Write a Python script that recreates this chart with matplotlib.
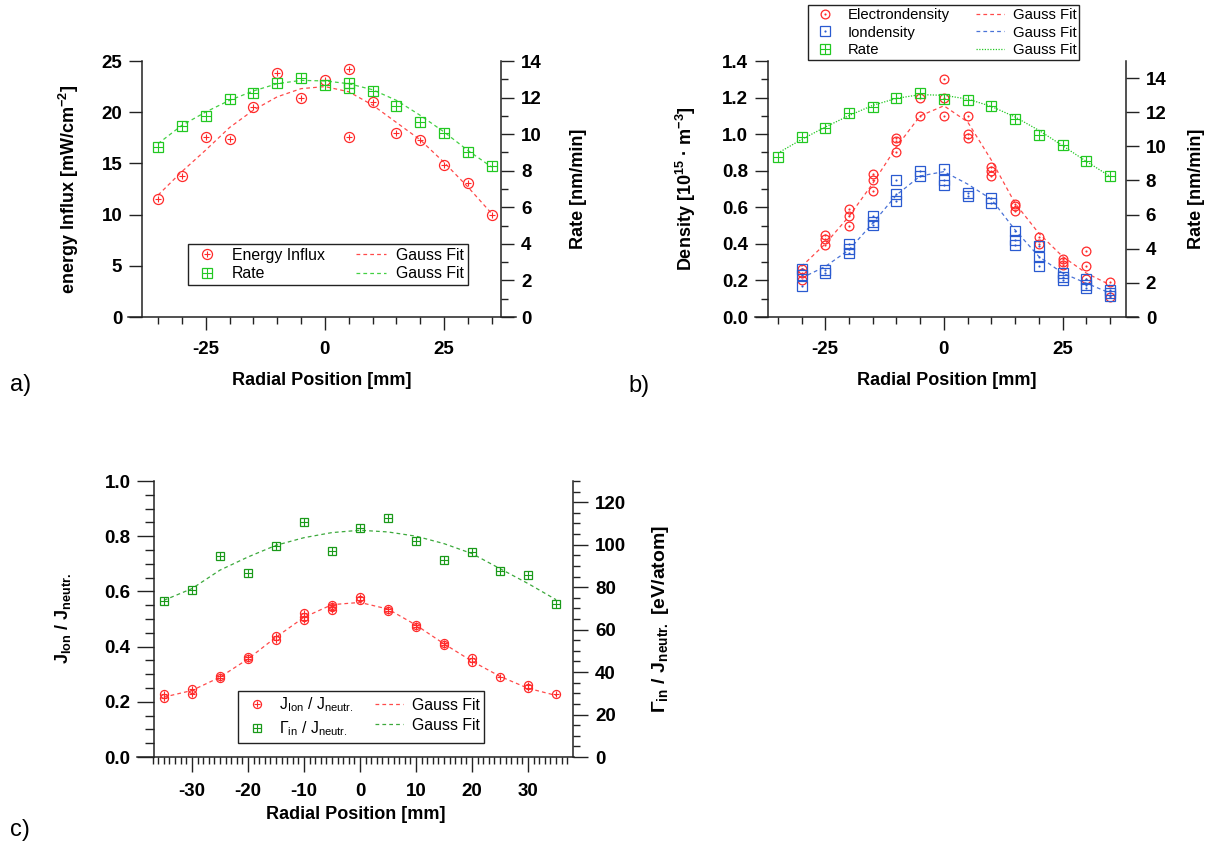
"""
Radial profiles: energy influx, densities and flux ratios with Gauss fits
"""

import matplotlib
matplotlib.use('Agg')
from matplotlib import pyplot
from matplotlib.ticker import FixedLocator, MultipleLocator, FormatStrFormatter

pyplot.rcParams['font.family'] = ['Liberation Sans', 'DejaVu Sans']
pyplot.rcParams['mathtext.default'] = 'regular'
pyplot.rcParams['axes.unicode_minus'] = False

FIG_W, FIG_H = 1215, 841
RED = '#ff2a2a'
GREEN = '#22c822'
DARK_GREEN = '#1a9a1a'
BLUE = '#2a5ad0'
AXIS_COLOR = '#222222'
TICK_SIZE = 13.5
LABEL_SIZE = 13

POSITIONS = [-35, -30, -25, -20, -15, -10, -5, 0, 5, 10, 15, 20, 25, 30, 35]

# ---- panel a ----
A_INFLUX_X = [-35, -30, -25, -20, -15, -10, -5, 0, 5, 5, 10, 15, 20, 25, 30, 35]
A_INFLUX_Y = [11.5, 13.8, 17.6, 17.4, 20.5, 23.8, 21.4, 23.1, 24.2, 17.6,
              21.0, 18.0, 17.3, 14.8, 13.1, 10.0]
A_RATE_X = [-35, -30, -25, -20, -15, -10, -5, 0, 5, 5, 10, 15, 20, 25, 30, 35]
A_RATE_Y = [9.31, 10.46, 10.99, 11.90, 12.27, 12.80, 13.09, 12.71, 12.80, 12.54,
            12.34, 11.52, 10.66, 10.04, 9.04, 8.24]
A_INFLUX_FIT = [11.9, 14.2, 16.3, 18.5, 20.2, 21.5, 22.3, 22.5, 22.0, 20.7,
                19.0, 17.3, 15.1, 12.7, 10.1]
A_RATE_FIT = [9.48, 10.48, 11.21, 11.85, 12.36, 12.76, 12.94, 12.91, 12.76,
              12.43, 11.85, 11.03, 10.12, 9.11, 8.20]

# ---- panel b ----
B_ELECTRON_X = [-30, -30, -30, -25, -25, -25, -20, -20, -20, -15, -15, -15,
                -10, -10, -10, -5, -5, 0, 0, 0, 5, 5, 5, 10, 10, 10,
                15, 15, 15, 20, 20, 25, 25, 25, 30, 30, 30, 35, 35]
B_ELECTRON_Y = [0.26, 0.24, 0.20, 0.45, 0.425, 0.395, 0.59, 0.55, 0.50,
                0.78, 0.75, 0.69, 0.98, 0.965, 0.90, 1.20, 1.10,
                1.30, 1.20, 1.10, 1.10, 1.00, 0.98, 0.82, 0.80, 0.77,
                0.62, 0.605, 0.58, 0.44, 0.40, 0.315, 0.30, 0.285,
                0.36, 0.28, 0.21, 0.19, 0.11]
B_ION_X = [-30, -30, -30, -25, -25, -20, -20, -20, -15, -15, -15,
           -10, -10, -10, -5, -5, 0, 0, 0, 5, 5, 10, 10,
           15, 15, 15, 20, 20, 20, 25, 25, 25, 30, 30, 30, 35, 35, 35]
B_ION_Y = [0.26, 0.23, 0.17, 0.255, 0.24, 0.40, 0.37, 0.35, 0.55, 0.52, 0.505,
           0.75, 0.675, 0.635, 0.80, 0.77, 0.81, 0.75, 0.72, 0.68, 0.66,
           0.65, 0.625, 0.47, 0.42, 0.395, 0.39, 0.33, 0.28,
           0.24, 0.22, 0.205, 0.21, 0.175, 0.16, 0.15, 0.13, 0.115]
B_RATE_Y = [9.38, 10.53, 11.07, 11.95, 12.30, 12.85, 13.13, 12.79, 12.70,
            12.34, 11.60, 10.68, 10.06, 9.12, 8.28]
B_FIT_X = [-30, -25, -20, -15, -10, -5, 0, 5, 10, 15, 20, 25, 30, 35]
B_ELECTRON_FIT = [0.276, 0.40, 0.55, 0.73, 0.93, 1.10, 1.155, 1.067, 0.858,
                  0.622, 0.458, 0.331, 0.24, 0.176]
B_ION_FIT = [0.213, 0.276, 0.367, 0.513, 0.667, 0.771, 0.795, 0.727, 0.644,
             0.476, 0.331, 0.24, 0.185, 0.131]
B_RATE_FIT = [9.6, 10.4, 11.13, 11.8, 12.4, 12.81, 13.03, 12.99, 12.77, 12.34,
              11.72, 10.94, 10.04, 9.12, 8.24]

# ---- panel c ----
C_ION_X = [-35, -35, -30, -30, -25, -25, -20, -20, -15, -15, -10, -10, -10,
           -5, -5, -5, 0, 0, 5, 5, 10, 10, 15, 15, 20, 20, 25, 30, 30, 35]
C_ION_Y = [0.229, 0.214, 0.247, 0.229, 0.295, 0.287, 0.364, 0.355, 0.437, 0.425,
           0.520, 0.508, 0.496, 0.551, 0.542, 0.533, 0.578, 0.570, 0.536, 0.528,
           0.478, 0.470, 0.412, 0.406, 0.359, 0.343, 0.289, 0.261, 0.249, 0.229]
C_GAMMA_Y = [73.3, 78.5, 94.7, 86.9, 99.4, 110.6, 96.9, 107.7, 112.6, 101.8,
             92.7, 96.7, 87.6, 85.8, 72.1]
C_ION_FIT = [0.217, 0.241, 0.289, 0.355, 0.434, 0.506, 0.552, 0.560, 0.536,
             0.478, 0.410, 0.347, 0.292, 0.249, 0.223]
C_GAMMA_FIT = [73.8, 79.3, 88.0, 94.2, 99.7, 103.3, 105.7, 106.8, 106.0, 104.0,
               100.5, 95.8, 88.7, 81.7, 74.1]


def px_rect(x0, y0, x1, y1):
    return [x0 / FIG_W, 1 - y1 / FIG_H, (x1 - x0) / FIG_W, (y1 - y0) / FIG_H]


def scatter(ax, x, y, color, shape, inner, size, inner_size):
    outer = ax.plot(x, y, ls='none', marker=shape, ms=size, mfc='none',
                    mec=color, mew=0.9)[0]
    core = ax.plot(x, y, ls='none', marker=inner, ms=inner_size, color=color,
                   mew=0.8)[0]
    return (outer, core)


def style_axes(ax, ax2, left_x, right_x):
    for name in ('top', 'right'):
        ax.spines[name].set_visible(False)
    for name in ('top', 'left', 'bottom'):
        ax2.spines[name].set_visible(False)
    ax.spines['left'].set_position(('data', left_x))
    ax2.spines['right'].set_position(('data', right_x))
    for a in (ax, ax2):
        a.patch.set_visible(False)
        for sp in a.spines.values():
            sp.set_color(AXIS_COLOR)
            sp.set_linewidth(1.1)
        a.tick_params(which='both', direction='out', color=AXIS_COLOR,
                      width=1.0, labelsize=TICK_SIZE, pad=5)
        a.tick_params(which='major', length=9.5)
        a.tick_params(which='minor', length=5)
    ax.tick_params(axis='x', pad=8)


def add_legend(fig, handles, labels, x, y, **kw):
    return fig.legend(handles, labels, ncol=2, loc='upper left',
                      bbox_to_anchor=(x / FIG_W, 1 - y / FIG_H), borderaxespad=0,
                      frameon=True, fancybox=False, framealpha=1,
                      edgecolor='#222222', **kw)


def bold_ticks(*axes):
    for a in axes:
        for lab in a.get_xticklabels() + a.get_yticklabels():
            lab.set_fontweight('bold')


def main():
    fig = pyplot.figure(figsize=(FIG_W / 100, FIG_H / 100), dpi=100)
    dashed = (0, (3, 2.5))

    # ---------------- panel a ----------------
    ax = fig.add_axes(px_rect(128, 61, 516, 317))
    ax2 = ax.twinx()
    ax.set_xlim(-41.3, 40.1)
    ax.set_ylim(0, 25)
    ax2.set_ylim(0, 14)

    fit_a1, = ax.plot(POSITIONS, A_INFLUX_FIT, color=RED, lw=0.9, ls=dashed, alpha=0.85)
    pts_a1 = scatter(ax, A_INFLUX_X, A_INFLUX_Y, RED, 'o', '+', 7.2, 5)
    fit_a2, = ax2.plot(POSITIONS, A_RATE_FIT, color=GREEN, lw=0.9, ls=dashed, alpha=0.85)
    pts_a2 = scatter(ax2, A_RATE_X, A_RATE_Y, GREEN, 's', '+', 7.2, 7.2)

    ax.xaxis.set_major_locator(FixedLocator([-25, 0, 25]))
    ax.xaxis.set_minor_locator(FixedLocator(POSITIONS))
    ax.yaxis.set_major_locator(MultipleLocator(5))
    ax2.yaxis.set_major_locator(MultipleLocator(2))
    ax2.yaxis.set_minor_locator(MultipleLocator(1))
    style_axes(ax, ax2, -38.3, 36.96)

    ax.set_xlabel('Radial Position [mm]', fontsize=LABEL_SIZE, fontweight='bold', labelpad=10)
    ax.set_ylabel('energy Influx [mW/cm$^{-2}$]', fontsize=LABEL_SIZE, fontweight='bold')
    ax.yaxis.set_label_coords(-0.12, 0.5)
    ax2.set_ylabel('Rate [nm/min]', fontsize=LABEL_SIZE, fontweight='bold')
    ax2.yaxis.set_label_coords(1.14, 0.5)

    add_legend(fig, [pts_a1, pts_a2, fit_a1, fit_a2],
               ['Energy Influx', 'Rate', 'Gauss Fit', 'Gauss Fit'], 188, 244,
               fontsize=11.4, handlelength=1.9, handletextpad=0.6,
               columnspacing=2.0, labelspacing=0.2, borderpad=0.25)

    # ---------------- panel b ----------------
    bx = fig.add_axes(px_rect(755, 61, 1138, 317))
    bx2 = bx.twinx()
    bx.set_xlim(-39.8, 40.9)
    bx.set_ylim(0, 1.4)
    bx2.set_ylim(0, 15)

    fit_b1, = bx.plot(B_FIT_X, B_ELECTRON_FIT, color=RED, lw=0.9, ls=dashed, alpha=0.85)
    fit_b2, = bx.plot(B_FIT_X, B_ION_FIT, color=BLUE, lw=0.9, ls=dashed, alpha=0.85)
    pts_b1 = scatter(bx, B_ELECTRON_X, B_ELECTRON_Y, RED, 'o', '.', 6.3, 1.5)
    pts_b2 = scatter(bx, B_ION_X, B_ION_Y, BLUE, 's', '.', 6.5, 1.5)
    fit_b3, = bx2.plot(POSITIONS, B_RATE_FIT, color=GREEN, lw=0.9, ls=(0, (1, 1.2)))
    pts_b3 = scatter(bx2, POSITIONS, B_RATE_Y, GREEN, 's', '+', 6.5, 6.5)

    bx.xaxis.set_major_locator(FixedLocator([-25, 0, 25]))
    bx.xaxis.set_minor_locator(FixedLocator(POSITIONS))
    bx.yaxis.set_major_locator(MultipleLocator(0.2))
    bx.yaxis.set_minor_locator(MultipleLocator(0.1))
    bx.yaxis.set_major_formatter(FormatStrFormatter('%.1f'))
    bx2.yaxis.set_major_locator(MultipleLocator(2))
    style_axes(bx, bx2, -36.98, 38.3)

    bx.set_xlabel('Radial Position [mm]', fontsize=LABEL_SIZE, fontweight='bold', labelpad=10)
    bx.set_ylabel('Density [10$^{15}$ · m$^{-3}$]', fontsize=LABEL_SIZE, fontweight='bold')
    bx.yaxis.set_label_coords(-0.15, 0.5)
    bx2.set_ylabel('Rate [nm/min]', fontsize=LABEL_SIZE, fontweight='bold')
    bx2.yaxis.set_label_coords(1.13, 0.5)

    add_legend(fig, [pts_b1, pts_b2, pts_b3, fit_b1, fit_b2, fit_b3],
               ['Electrondensity', 'Iondensity', 'Rate',
                'Gauss Fit', 'Gauss Fit', 'Gauss Fit'], 808, 5,
               fontsize=10.7, handlelength=1.9, handletextpad=0.6,
               columnspacing=1.7, labelspacing=0.25, borderpad=0.2)

    # ---------------- panel c ----------------
    cx = fig.add_axes(px_rect(137, 481, 574, 757))
    cx2 = cx.twinx()
    cx.set_xlim(-39.8, 38.2)
    cx.set_ylim(0, 1.0)
    cx2.set_ylim(0, 130)

    fit_c1, = cx.plot(POSITIONS, C_ION_FIT, color=RED, lw=0.9, ls=dashed, alpha=0.85)
    pts_c1 = scatter(cx, C_ION_X, C_ION_Y, RED, 'o', '+', 5.8, 4)
    fit_c2, = cx2.plot(POSITIONS, C_GAMMA_FIT, color=DARK_GREEN, lw=0.9, ls=dashed, alpha=0.85)
    pts_c2 = scatter(cx2, POSITIONS, C_GAMMA_Y, DARK_GREEN, 's', '+', 6, 6)

    cx.xaxis.set_major_locator(FixedLocator([-30, -20, -10, 0, 10, 20, 30]))
    cx.xaxis.set_minor_locator(FixedLocator(list(range(-37, 38))))
    cx.yaxis.set_major_locator(MultipleLocator(0.2))
    cx.yaxis.set_minor_locator(MultipleLocator(0.05))
    cx.yaxis.set_major_formatter(FormatStrFormatter('%.1f'))
    cx2.yaxis.set_major_locator(MultipleLocator(20))
    cx2.yaxis.set_minor_locator(MultipleLocator(5))
    style_axes(cx, cx2, -36.73, 37.98)
    cx.tick_params(axis='y', which='major', length=12)
    cx.tick_params(axis='y', which='minor', length=6.5)
    cx.tick_params(axis='x', which='major', length=11)
    cx.tick_params(axis='x', which='minor', length=5)
    cx2.tick_params(which='major', length=11)

    cx.set_xlabel('Radial Position [mm]', fontsize=LABEL_SIZE, fontweight='bold', labelpad=4)
    cx.set_ylabel('J$_{Ion}$ / J$_{neutr.}$', fontsize=LABEL_SIZE, fontweight='bold')
    cx.yaxis.set_label_coords(-0.146, 0.5)
    cx2.set_ylabel('Γ$_{in}$ / J$_{neutr.}$ [eV/atom]', fontsize=14, fontweight='bold')
    cx2.yaxis.set_label_coords(1.174, 0.5)

    add_legend(fig, [pts_c1, pts_c2, fit_c1, fit_c2],
               ['J$_{Ion}$ / J$_{neutr.}$', 'Γ$_{in}$ / J$_{neutr.}$',
                'Gauss Fit', 'Gauss Fit'], 238, 691,
               fontsize=11.4, handlelength=1.75, handletextpad=0.55,
               columnspacing=1.35, labelspacing=0.3, borderpad=0.3)

    bold_ticks(ax, ax2, bx, bx2, cx, cx2)

    fig.text(10 / FIG_W, 1 - 385 / FIG_H, 'a)', fontsize=17, va='center')
    fig.text(628 / FIG_W, 1 - 386 / FIG_H, 'b)', fontsize=17, va='center')
    fig.text(10 / FIG_W, 1 - 830 / FIG_H, 'c)', fontsize=17, va='center')

    fig.savefig('out.png', dpi=100)


if __name__ == '__main__':
    main()
